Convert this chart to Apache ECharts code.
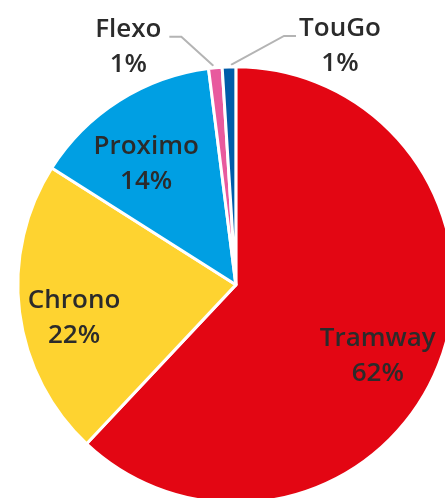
<!DOCTYPE html>
<html>
<head>
<meta charset="utf-8">
<style>html,body{margin:0;padding:0;background:#fff;}#c{width:445px;height:498px;}</style>
<script src="https://cdn.jsdelivr.net/npm/echarts@6/dist/echarts.min.js"></script>
</head>
<body>
<div id="c"></div>
<script>
var categories = ['Tramway', 'Chrono', 'Proximo', 'Flexo', 'TouGo'];
var values = [62, 22, 14, 1, 1];
var colors = ['#e30613', '#fed330', '#009fe3', '#e85a9e', '#005ca9'];
var outsideLabels = [false, false, false, true, true];

var chart = echarts.init(document.getElementById('c'), null, {renderer: 'canvas'});
var data = categories.map(function (n, i) {
  return { name: n, value: values[i], itemStyle: { color: colors[i] } };
});
var labelData = categories.map(function (n, i) {
  return {
    name: n, value: values[i],
    label: { position: outsideLabels[i] ? 'outside' : 'inside' },
    labelLine: { show: outsideLabels[i] }
  };
});
var center = ['53%', '57.2%'];
chart.setOption({
  animation: false,
  series: [
    {
      type: 'pie', center: center, radius: 218, startAngle: 90, clockwise: true,
      silent: true, label: { show: false }, labelLine: { show: false },
      itemStyle: { borderColor: '#ffffff', borderWidth: 3 },
      emphasis: { disabled: true },
      data: data
    },
    {
      type: 'pie', center: center, radius: [92, 218], startAngle: 90, clockwise: true,
      silent: true, avoidLabelOverlap: false,
      itemStyle: { color: 'transparent', borderWidth: 0 },
      emphasis: { disabled: true },
      label: {
        show: true, formatter: '{b}\n{d}%', overflow: 'none',
        fontFamily: 'Open Sans', fontWeight: 600, fontSize: 26, lineHeight: 35,
        color: '#2b2b2b', align: 'center'
      },
      labelLine: { show: true, length: 30, length2: 12, lineStyle: { color: '#b4b4b4', width: 2 } },
      labelLayout: function (p) {
        var i = p.dataIndex;
        if (!outsideLabels[i]) {
          return { dx: -5, dy: 13 };
        }
        var p0 = p.labelLinePoints[0];
        var dir = (i === 3) ? -1 : 1;
        var run = (i === 3) ? 34 : 55;
        var p1 = [p0[0] + dir * run, p0[1] - 31];
        var p2 = [p1[0] + dir * 12, p1[1]];
        return {
          x: p2[0] + dir * (i === 3 ? 41 : 44), y: p2[1] + 10,
          align: 'center', verticalAlign: 'middle',
          labelLinePoints: [[p0[0] + dir * 2, p0[1] - 2], p1, p2]
        };
      },
      data: labelData
    }
  ]
});
</script>
</body>
</html>
